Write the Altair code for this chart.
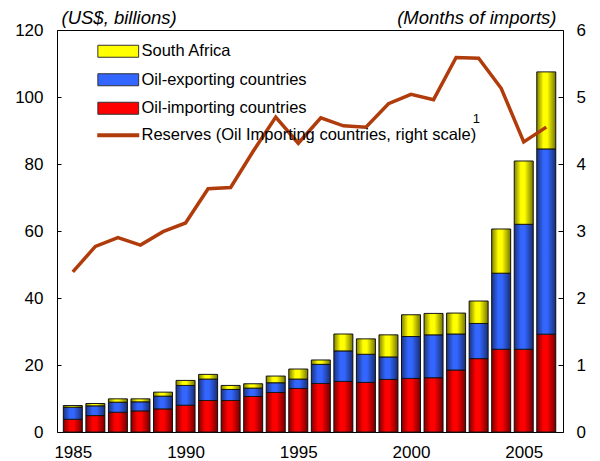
import altair as alt
import pandas as pd

# ---------------- data ----------------
years = list(range(1985, 2007))
oil_importing = [3.8, 4.9, 5.9, 6.3, 6.9, 8.0, 9.4, 9.4, 10.6, 11.8, 13.0,
                 14.5, 15.1, 14.8, 15.7, 16.0, 16.2, 18.5, 21.9, 24.7, 24.7, 29.2]
oil_exporting = [3.6, 2.9, 3.0, 2.7, 3.8, 5.9, 6.4, 3.3, 2.5, 2.9, 2.8,
                 5.7, 9.1, 8.4, 6.7, 12.5, 12.8, 10.75, 10.5, 22.7, 37.3, 55.3]
south_africa = [0.5, 0.7, 1.0, 0.9, 1.2, 1.5, 1.4, 1.2, 1.3, 2.0, 3.0,
                1.3, 5.05, 4.6, 6.6, 6.5, 6.4, 6.25, 6.7, 13.2, 18.9, 23.0]
reserves = [2.39, 2.77, 2.90, 2.79, 2.99, 3.12, 3.63, 3.65, 4.19, 4.70, 4.31,
            4.69, 4.57, 4.55, 4.90, 5.04, 4.96, 5.59, 5.58, 5.13, 4.33, 4.55]

series_names = ["South Africa", "Oil-exporting countries", "Oil-importing countries"]
series_colors = ["#ffff00", "#3366ff", "#ff0000"]
line_name = "Reserves (Oil Importing countries, right scale)"
line_color = "#b03c0c"
left_ticks = [0, 20, 40, 60, 80, 100, 120]
right_ticks = [0, 1, 2, 3, 4, 5, 6]
x_labels = [1985, 1990, 1995, 2000, 2005]
note_text = "1"

# ---------------- tables ----------------
rows = []
for i, yr in enumerate(years):
    rows.append({"year": yr, "series": series_names[2], "value": oil_importing[i], "stackorder": 0})
    rows.append({"year": yr, "series": series_names[1], "value": oil_exporting[i], "stackorder": 1})
    rows.append({"year": yr, "series": series_names[0], "value": south_africa[i], "stackorder": 2})
bars_df = pd.DataFrame(rows)
line_df = pd.DataFrame({"year": years, "reserves": reserves, "series": [line_name] * len(years)})
note_df = pd.DataFrame({"year": [2002.9], "value": [93.5], "label": [note_text]})

FONT = "Liberation Sans"
TITLE_SIZE = 18.5

xscale = alt.Scale(domain=[1984.52, 2006.52], nice=False, zero=False)
xaxis = alt.Axis(values=x_labels, format="d", title=None, ticks=False, tickSize=0,
                 domain=False, grid=False, labelFontSize=17, labelPadding=12,
                 labelColor="black", labelFont=FONT)

yscale_left = alt.Scale(domain=[0, 120], nice=False)
yaxis_left = alt.Axis(values=left_ticks, title="(US$, billions)", titleAngle=0,
                      titleAlign="left", titleBaseline="alphabetic", titleX=0, titleY=-7,
                      titleFontStyle="italic", titleFontWeight="normal", titleFontSize=TITLE_SIZE,
                      titleFont=FONT, titleColor="black", domain=False, grid=False,
                      tickSize=4, tickColor="black", offset=-4, labelFontSize=17,
                      labelPadding=14, labelColor="black", labelFont=FONT)

yscale_right = alt.Scale(domain=[0, 6], nice=False)
yaxis_right = alt.Axis(values=right_ticks, orient="right", title="(Months of imports)",
                       titleAngle=0, titleAlign="right", titleBaseline="alphabetic",
                       titleX=-2, titleY=-7, titleFontStyle="italic", titleFontWeight="normal",
                       titleFontSize=TITLE_SIZE, titleFont=FONT, titleColor="black", domain=False,
                       grid=False, tickSize=5, tickColor="black", offset=-5, labelFontSize=17,
                       labelPadding=13, labelColor="black", labelFont=FONT)

bars = alt.Chart(bars_df).mark_bar(size=19, stroke="#1a1a1a", strokeWidth=1).encode(
    x=alt.X("year:Q", scale=xscale, axis=xaxis),
    y=alt.Y("value:Q", scale=yscale_left, axis=yaxis_left, stack="zero"),
    color=alt.Color("series:N",
                    scale=alt.Scale(domain=series_names, range=series_colors),
                    legend=alt.Legend(title=None, orient="none", legendX=53, legendY=13,
                                      symbolType="M-3.4,-1H3.4V1H-3.4Z", symbolSize=144,
                                      symbolStrokeColor="#333333", symbolStrokeWidth=1,
                                      symbolOpacity=1, labelFontSize=16.5, labelFont=FONT,
                                      labelColor="black", labelOffset=15, rowPadding=11.5,
                                      padding=0, labelLimit=600)),
    order=alt.Order("stackorder:Q", sort="ascending"),
)

shade_grad = alt.Gradient(
    gradient="linear", x1=0, x2=1, y1=0, y2=0,
    stops=[alt.GradientStop(color="rgba(0,0,0,0.5)", offset=0),
           alt.GradientStop(color="rgba(0,0,0,0)", offset=0.35),
           alt.GradientStop(color="rgba(0,0,0,0)", offset=0.55),
           alt.GradientStop(color="rgba(0,0,0,0.55)", offset=1)])

shade = alt.Chart(bars_df).mark_bar(size=19, color=shade_grad).encode(
    x=alt.X("year:Q", scale=xscale, axis=xaxis),
    y=alt.Y("sum(value):Q", scale=yscale_left, axis=yaxis_left),
)

note = alt.Chart(note_df).mark_text(fontSize=13, font=FONT, color="black").encode(
    x=alt.X("year:Q", scale=xscale, axis=xaxis),
    y=alt.Y("value:Q", scale=yscale_left, axis=yaxis_left),
    text="label:N",
)

line = alt.Chart(line_df).mark_line(strokeWidth=3.5).encode(
    x=alt.X("year:Q", scale=xscale, axis=xaxis),
    y=alt.Y("reserves:Q", scale=yscale_right, axis=yaxis_right),
    stroke=alt.Stroke("series:N",
                      scale=alt.Scale(domain=[line_name], range=[line_color]),
                      legend=alt.Legend(title=None, orient="none", legendX=53, legendY=97,
                                        symbolType="M-3.5,0H3.5", symbolSize=144,
                                        symbolStrokeWidth=4, symbolFillColor="transparent",
                                        labelFontSize=16.5, labelFont=FONT, labelColor="black",
                                        labelOffset=15, padding=0, labelLimit=600)),
)

left_layer = alt.layer(bars, shade, note)
chart = alt.layer(left_layer, line).resolve_scale(
    y="independent", color="independent", stroke="independent"
).properties(
    width=506, height=402,
    autosize=alt.AutoSizeParams(type="none"),
    padding={"left": 49, "top": 22, "right": 29, "bottom": 29},
    background="white",
).configure_view(stroke="black", strokeWidth=1)

chart.save("out.html", embed_options={"renderer": "svg", "actions": False})
